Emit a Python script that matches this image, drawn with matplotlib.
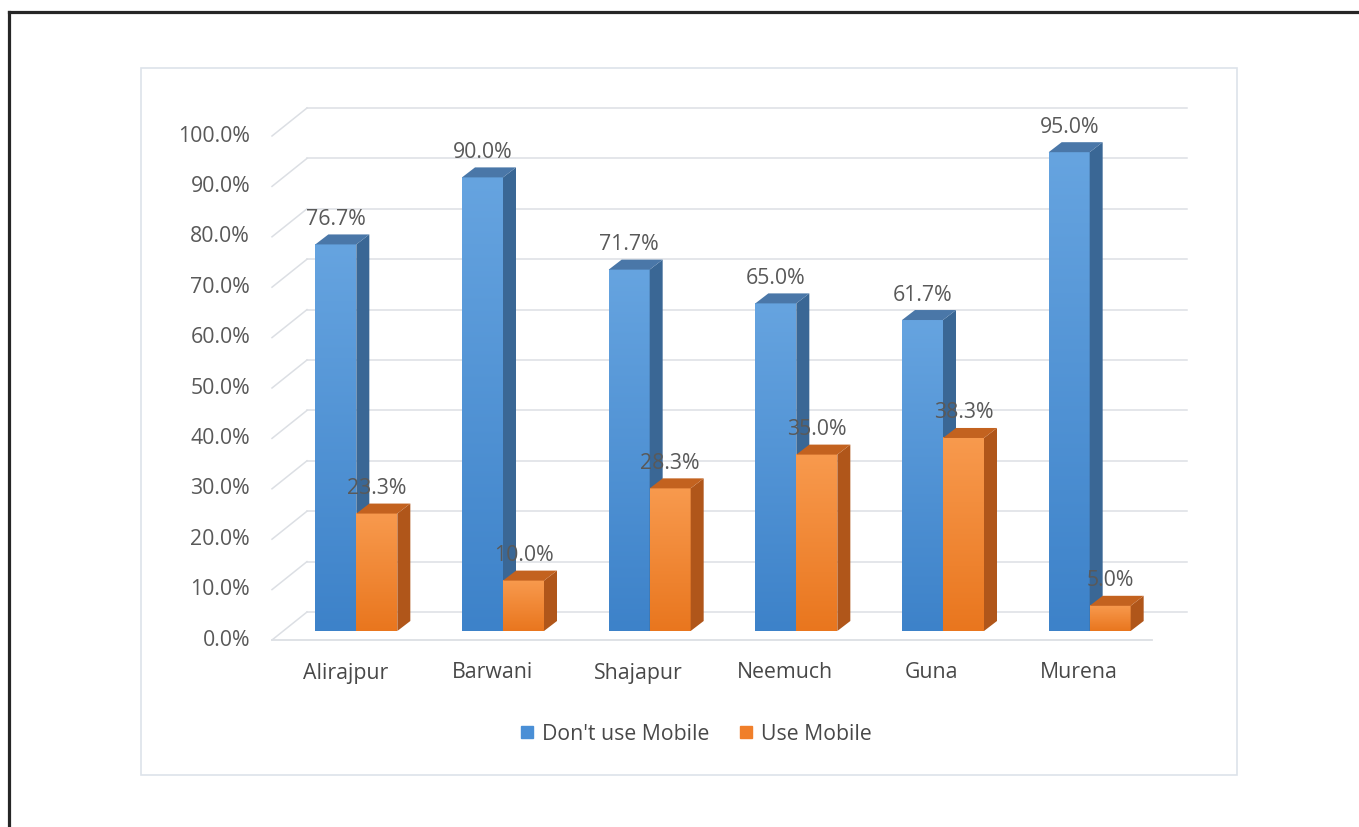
import matplotlib
matplotlib.use('Agg')
import matplotlib.pyplot as plt
import numpy as np
from matplotlib.patches import Polygon, Rectangle
from matplotlib.lines import Line2D
from matplotlib.colors import LinearSegmentedColormap

# ---------------- data ----------------
districts = ['Alirajpur', 'Barwani', 'Shajapur', 'Neemuch', 'Guna', 'Murena']
dont_use = [76.7, 90.0, 71.7, 65.0, 61.7, 95.0]
use_mobile = [23.3, 10.0, 28.3, 35.0, 38.3, 5.0]
series_names = ["Don't use Mobile", "Use Mobile"]
y_ticks = [0, 10, 20, 30, 40, 50, 60, 70, 80, 90, 100]

# ---------------- style ----------------
FONT = 'Open Sans'
FS = 15.3
TXT = '#595959'
GRID = '#dcdfe4'
blue = dict(dark='#3d82c9', light='#66a4e0', side='#3a6795', top='#4a77a8', legend='#4a8fd6')
orange = dict(dark='#e9761e', light='#f89a4e', side='#b0561a', top='#c3621f', legend='#f07f2a')

W, H = 1359, 827
fig = plt.figure(figsize=(W / 100, H / 100), dpi=100)
fig.patch.set_facecolor('white')

# outer black frame (top and left edges)
fig.add_artist(Line2D([8.5 / W, 1.0], [1 - 11.5 / H, 1 - 11.5 / H], color='#262626', lw=2.3,
                      transform=fig.transFigure))
fig.add_artist(Line2D([8.5 / W, 8.5 / W], [0, 1 - 11.5 / H], color='#262626', lw=2.3,
                      transform=fig.transFigure))
# chart area border
fig.add_artist(Rectangle((141 / W, 1 - 775 / H), (1237 - 141) / W, (775 - 68) / H,
                         transform=fig.transFigure, fill=False, ec='#dde3ea', lw=1.2))

ax = fig.add_axes([283 / W, 1 - 631 / H, 880 / W, 504 / H])
ax.set_xlim(-0.5, 5.5)
ax.set_ylim(0, 100)
ax.axis('off')

# pixel -> data conversion
p0 = ax.transData.transform((0, 0))
p1 = ax.transData.transform((1, 1))
ppx, ppy = p1[0] - p0[0], p1[1] - p0[1]
def d(dxp, dyp):
    return dxp / ppx, dyp / ppy

fdx, fdy = d(-11, -9)    # front plane offset
bdx, bdy = d(24, 19)     # back wall offset
kdx, kdy = d(13, 10)     # bar depth
bw = 41 / ppx            # bar width
xl, xr = -0.5, 5.5

# gridlines: back wall + left wall diagonals
for t in y_ticks:
    ax.plot([xl + bdx, xr + bdx], [t + bdy, t + bdy], color=GRID, lw=1.1, zorder=1, clip_on=False)
    ax.plot([xl + fdx, xl + bdx], [t + fdy, t + bdy], color=GRID, lw=1.1, zorder=1, clip_on=False)
    ax.annotate(f'{t:.1f}%', xy=(xl + fdx, t + fdy), xytext=(-22, 0), textcoords='offset pixels',
                ha='right', va='center', fontsize=FS, color=TXT, family=FONT,
                annotation_clip=False)
# floor front edge
ax.plot([xl + fdx, xr + fdx], [fdy, fdy], color=GRID, lw=1.3, zorder=1, clip_on=False)

grad = np.linspace(1, 0, 256).reshape(-1, 1)
z = 5
for i in range(len(districts)):
    for (vals, c, x0) in ((dont_use, blue, i - bw), (use_mobile, orange, i)):
        h = vals[i]
        x1 = x0 + bw
        cmap = LinearSegmentedColormap.from_list('g', [c['dark'], c['light']])
        ax.imshow(grad, cmap=cmap, extent=[x0, x1, 0, h], aspect='auto', origin='upper',
                  vmin=0, vmax=1, zorder=z, interpolation='bilinear')
        ax.add_patch(Polygon([(x1, 0), (x1 + kdx, kdy), (x1 + kdx, h + kdy), (x1, h)],
                             closed=True, fc=c['side'], ec='none', zorder=z + 1))
        ax.add_patch(Polygon([(x0, h), (x1, h), (x1 + kdx, h + kdy), (x0 + kdx, h + kdy)],
                             closed=True, fc=c['top'], ec='none', zorder=z + 1))
        ax.annotate(f'{h:.1f}%', xy=((x0 + x1) / 2, h), xytext=(0, 25), textcoords='offset pixels',
                    ha='center', va='center', fontsize=FS, color=TXT, family=FONT, zorder=50,
                    annotation_clip=False)
        z += 2
    ax.annotate(districts[i], xy=(i + fdx, fdy), xytext=(0, -33), textcoords='offset pixels',
                ha='center', va='center', fontsize=FS, color='#484848', family=FONT,
                annotation_clip=False)

ax.set_xlim(-0.5, 5.5)
ax.set_ylim(0, 100)

handles = [Line2D([], [], marker='s', ls='', ms=9, color=blue['legend']),
           Line2D([], [], marker='s', ls='', ms=9, color=orange['legend'])]
fig.legend(handles, series_names, loc='center', bbox_to_anchor=(694 / W, 1 - 734 / H),
           ncol=2, frameon=False, handletextpad=0.2, columnspacing=1.2, handlelength=1.0,
           prop={'family': FONT, 'size': FS}, labelcolor='#484848')

fig.savefig('out.png', dpi=100)
